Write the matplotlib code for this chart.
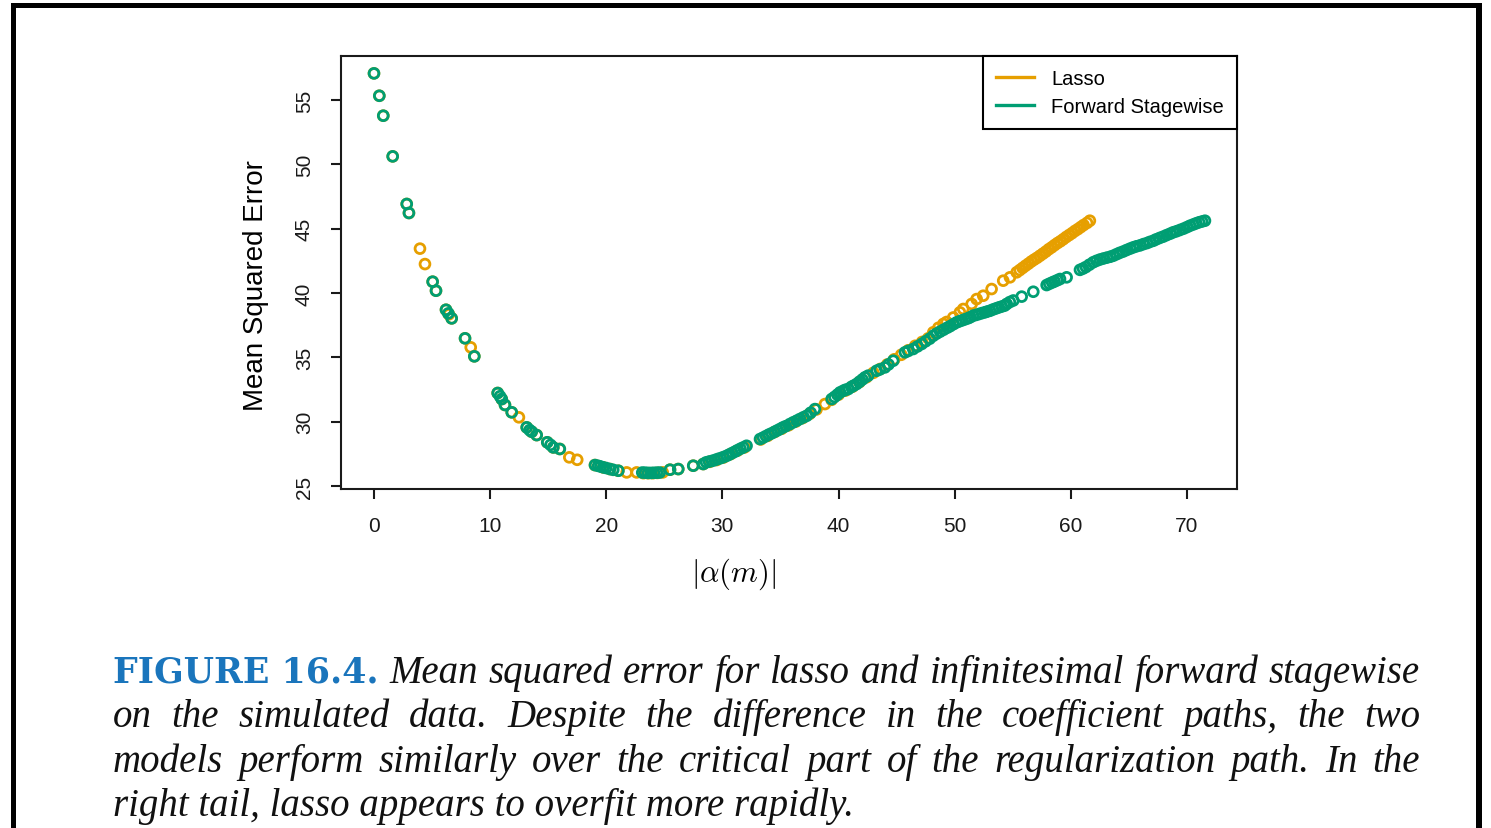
import matplotlib.pyplot as plt
from matplotlib.lines import Line2D
from matplotlib.patches import Rectangle

plt.rcParams['font.family'] = ['Liberation Sans', 'DejaVu Sans']
plt.rcParams['mathtext.fontset'] = 'cm'

# values
lasso_x = [0.0, 0.46, 0.80, 1.61, 2.82, 3.01, 3.96, 4.39, 5.05, 5.34, 6.20, 6.45, 6.69, 7.84, 8.33, 8.64,
           10.65, 11.00, 11.28, 11.86, 12.48, 13.15, 13.58, 14.01, 14.92, 15.44, 16.00, 16.82, 17.50,
           19.03, 19.74, 20.32, 21.04, 21.76, 22.62, 23.20, 23.60, 24.00, 24.40, 24.86, 25.49, 26.20, 27.49, 28.35,
           28.90, 29.50, 30.10, 30.70, 31.30, 31.90, 33.30, 33.90, 34.50, 35.10, 35.70, 36.30, 36.90, 37.50,
           38.10, 38.83, 39.40, 40.00, 40.60, 41.20, 41.80, 42.40, 43.00, 43.60, 44.20, 44.80, 45.40, 46.00,
           46.60, 47.20, 47.72, 48.16, 48.60, 49.03, 49.31, 49.88, 50.45, 50.74, 51.46, 51.89, 52.46, 53.18,
           54.18, 54.76, 55.34, 55.60, 55.85, 56.10, 56.35, 56.60, 56.85, 57.10, 57.35, 57.60, 57.85, 58.10,
           58.35, 58.60, 58.85, 59.10, 59.35, 59.60, 59.85, 60.10, 60.35, 60.60, 60.85, 61.10, 61.40, 61.64]
lasso_y = [57.07, 55.33, 53.78, 50.62, 46.92, 46.22, 43.45, 42.25, 40.88, 40.18, 38.70, 38.35, 38.03, 36.48, 35.78, 35.08,
           32.23, 31.76, 31.30, 30.73, 30.34, 29.56, 29.22, 28.96, 28.40, 28.00, 27.88, 27.23, 27.04,
           26.63, 26.45, 26.32, 26.19, 26.06, 26.06, 26.00, 26.00, 26.00, 26.02, 26.06, 26.27, 26.32, 26.58, 26.71,
           26.88, 27.02, 27.22, 27.48, 27.75, 28.00, 28.62, 28.90, 29.20, 29.45, 29.72, 30.00, 30.28, 30.60,
           30.95, 31.37, 31.70, 32.10, 32.42, 32.72, 33.08, 33.45, 33.80, 34.10, 34.45, 34.85, 35.20, 35.55,
           35.90, 36.20, 36.48, 36.95, 37.30, 37.60, 37.75, 38.10, 38.50, 38.76, 39.15, 39.53, 39.79, 40.31,
           40.96, 41.22, 41.61, 41.78, 41.95, 42.12, 42.28, 42.45, 42.60, 42.74, 42.90, 43.06, 43.22, 43.40,
           43.55, 43.72, 43.88, 44.02, 44.18, 44.35, 44.50, 44.65, 44.82, 44.96, 45.12, 45.28, 45.45, 45.62]

fs_x = [0.0, 0.46, 0.80, 1.61, 2.82, 3.01, 5.05, 5.34, 6.20, 6.40, 6.69, 7.84, 8.64,
        10.65, 10.85, 11.00, 11.28, 11.86, 13.15, 13.40, 13.58, 14.01, 14.92, 15.20, 15.44, 16.00,
        19.03, 19.30, 19.50, 19.74, 20.00, 20.32, 20.60, 21.04, 23.10, 23.35, 23.60, 23.85, 24.10, 24.35, 24.60,
        25.49, 26.20, 27.49, 28.35,
        28.60, 28.85, 29.10, 29.35, 29.60, 29.85, 30.10, 30.37, 30.60, 30.85, 31.10, 31.30, 31.55, 31.80, 32.08,
        33.24, 33.50, 33.75, 34.00, 34.25, 34.50, 34.75, 34.96, 35.20, 35.45, 35.82, 36.10, 36.40, 36.68,
        37.00, 37.26, 37.60, 37.97,
        39.41, 39.65, 39.90, 40.13, 40.40, 40.60, 40.84, 41.10, 41.30, 41.56, 41.80, 42.05, 42.28, 42.55,
        43.28, 43.55, 43.99, 44.30, 44.71, 45.72, 46.00, 46.43, 46.80, 47.16, 47.50, 47.85,
        48.16, 48.45, 48.75, 49.05, 49.35, 49.60, 49.90, 50.17, 50.40, 50.65, 50.90, 51.15, 51.35, 51.60,
        51.85, 52.10, 52.35, 52.60, 52.80, 53.04, 53.30, 53.55, 53.80, 54.05, 54.30, 54.48, 54.75, 55.05,
        55.77, 56.77, 57.92, 58.15, 58.40, 58.60, 58.85, 59.07, 59.64,
        60.79, 61.05, 61.30, 61.60, 61.93, 62.20, 62.50, 62.80, 63.10, 63.40, 63.66, 63.95, 64.20, 64.50,
        64.80, 65.10, 65.38, 65.65, 65.95, 66.25, 66.55, 66.80, 67.10, 67.35, 67.65, 67.95, 68.25, 68.55,
        68.82, 69.10, 69.40, 69.70, 70.00, 70.26, 70.55, 70.80, 71.05, 71.30, 71.55]
fs_y = [57.07, 55.33, 53.78, 50.62, 46.92, 46.22, 40.88, 40.18, 38.70, 38.42, 38.03, 36.48, 35.08,
        32.23, 31.98, 31.76, 31.30, 30.73, 29.56, 29.35, 29.22, 28.96, 28.40, 28.20, 28.00, 27.88,
        26.63, 26.57, 26.52, 26.45, 26.40, 26.32, 26.26, 26.19, 26.05, 26.04, 26.02, 26.02, 26.03, 26.04, 26.05,
        26.27, 26.32, 26.58, 26.71,
        26.84, 26.90, 26.95, 27.02, 27.10, 27.17, 27.25, 27.35, 27.45, 27.57, 27.68, 27.78, 27.90, 28.00, 28.13,
        28.65, 28.76, 28.88, 29.00, 29.10, 29.22, 29.33, 29.43, 29.55, 29.65, 29.82, 29.95, 30.08, 30.21,
        30.35, 30.46, 30.70, 30.98,
        31.76, 31.92, 32.10, 32.28, 32.40, 32.48, 32.54, 32.70, 32.80, 32.93, 33.10, 33.28, 33.45, 33.58,
        33.96, 34.06, 34.22, 34.45, 34.74, 35.39, 35.50, 35.65, 35.85, 36.04, 36.25, 36.45,
        36.68, 36.85, 37.00, 37.15, 37.30, 37.42, 37.58, 37.72, 37.80, 37.88, 37.96, 38.04, 38.12, 38.24,
        38.30, 38.37, 38.44, 38.50, 38.56, 38.62, 38.72, 38.80, 38.88, 38.95, 39.02, 39.15, 39.30, 39.42,
        39.72, 40.10, 40.62, 40.72, 40.82, 40.90, 41.00, 41.09, 41.22,
        41.80, 41.90, 42.02, 42.20, 42.39, 42.50, 42.60, 42.68, 42.75, 42.82, 42.90, 43.02, 43.12, 43.22,
        43.34, 43.45, 43.55, 43.63, 43.70, 43.80, 43.88, 43.97, 44.06, 44.17, 44.28, 44.38, 44.50, 44.61,
        44.72, 44.80, 44.90, 45.00, 45.12, 45.23, 45.33, 45.42, 45.50, 45.56, 45.62]

series_labels = ['Lasso', 'Forward Stagewise']
series_colors = ['#E69F00', '#009E73']
x_ticks = [0, 10, 20, 30, 40, 50, 60, 70]
y_ticks = [25, 30, 35, 40, 45, 50, 55]

W, H = 1491, 829
fig = plt.figure(figsize=(W / 100, H / 100), dpi=100)
ax = fig.add_axes([341 / W, 1 - 490 / H, (1237 - 341) / W, (490 - 57) / H])

ax.scatter(lasso_x, lasso_y, s=50, facecolors='none', edgecolors=series_colors[0], linewidths=2.0)
ax.scatter(fs_x, fs_y, s=50, facecolors='none', edgecolors=series_colors[1], linewidths=2.0)

ax.set_xlim(-2.84, 74.31)
ax.set_ylim(24.77, 58.42)
ax.set_xticks(x_ticks)
ax.set_yticks(y_ticks)
ax.tick_params(direction='out', length=7.5, width=1.5, pad=12, labelsize=15, colors='#1a1a1a')
ax.tick_params(axis='y', labelrotation=90)
for lab in ax.get_yticklabels():
    lab.set_va('center')
for sp in ax.spines.values():
    sp.set_linewidth(1.5)
    sp.set_color('#1a1a1a')

handles = [Line2D([], [], color=c, lw=2.4) for c in series_colors]
leg = ax.legend(handles, series_labels, loc='upper right', borderaxespad=0, fancybox=False,
                edgecolor='black', framealpha=1, fontsize=14.5, handlelength=1.9,
                handletextpad=0.85, borderpad=0.65, labelspacing=0.45)
leg.get_frame().set_linewidth(1.5)

fig.text(256 / W, 1 - 286 / H, 'Mean Squared Error', rotation=90, ha='center', va='center', fontsize=20)
fig.text(734 / W, 1 - 574 / H, r'$|\alpha(m)|$', ha='center', va='center', fontsize=22)

# outer frame
for x0, y0, x1, y1 in [(11, 4, 16, 829), (11, 4, 1482, 9), (1476, 4, 1482, 829)]:
    fig.add_artist(Rectangle((x0 / W, 1 - y1 / H), (x1 - x0) / W, (y1 - y0) / H,
                             transform=fig.transFigure, color='black', lw=0))

# caption, justified like the book
cap_lines = [
    'Mean squared error for lasso and infinitesimal forward stagewise',
    'on the simulated data. Despite the difference in the coefficient paths, the two',
    'models perform similarly over the critical part of the regularization path. In the',
    'right tail, lasso appears to overfit more rapidly.',
]
baselines = [683, 727, 772, 816]
left, right = 113, 1420
fig.canvas.draw()
r = fig.canvas.get_renderer()
for i, line in enumerate(cap_lines):
    yy = 1 - baselines[i] / H
    texts = []
    if i == 0:
        texts.append(fig.text(0, yy, 'FIGURE 16.4.', family='DejaVu Serif', weight='bold',
                              color='#1a75bc', fontsize=25, va='baseline'))
    words = line.split() if i < 3 else [line]
    for w in words:
        texts.append(fig.text(0, yy, w, family='Liberation Serif', style='italic',
                              fontsize=28, va='baseline', color='#111111'))
    widths = [t.get_window_extent(r).width for t in texts]
    gap = (right - left - sum(widths)) / (len(texts) - 1) if i < 3 else 0
    x = left
    for t, w in zip(texts, widths):
        t.set_x(x / W)
        x += w + gap

fig.savefig('out.png', dpi=100)
